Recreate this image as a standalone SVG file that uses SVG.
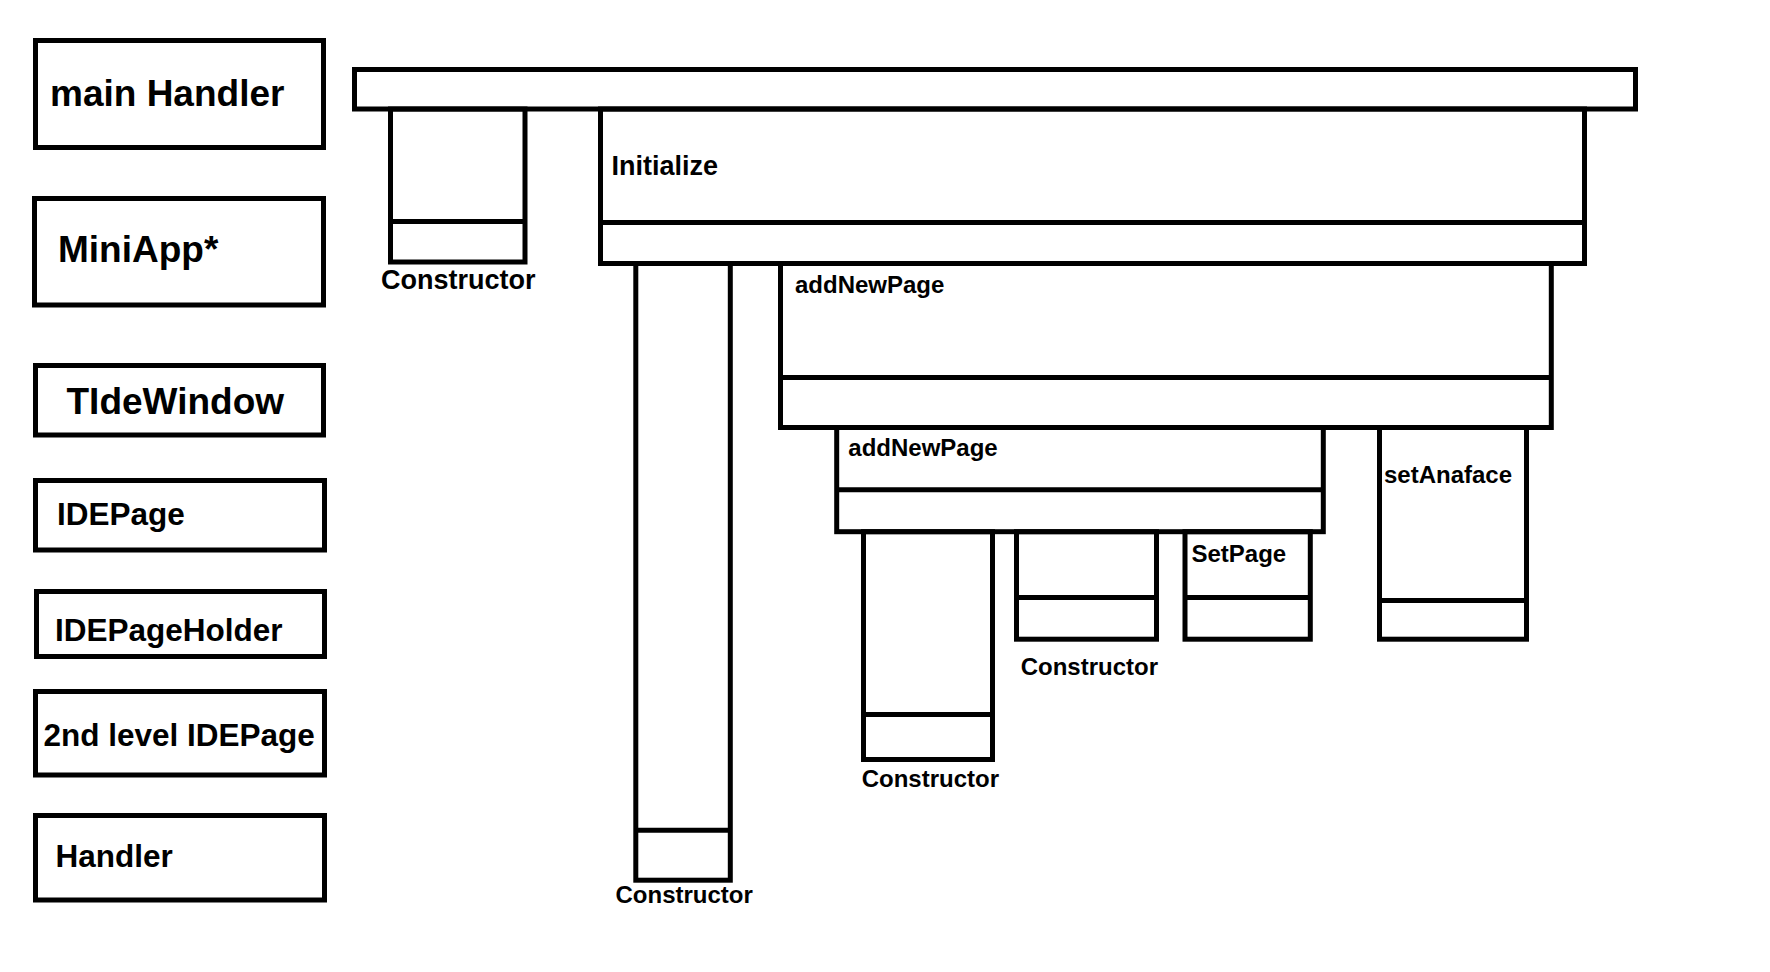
<svg xmlns="http://www.w3.org/2000/svg" width="1770" height="972" viewBox="0 0 1770 972">
<style>
rect.b{fill:none;stroke:#000;stroke-width:5}
line.d{stroke:#000;stroke-width:5}
text{font-family:"Liberation Sans",Arial,sans-serif;font-weight:bold;fill:#000}
.big{font-size:37px}
.mid{font-size:31.5px}
.lbl{font-size:24px}
.lbl27{font-size:27px}
</style>
<rect width="1770" height="972" fill="#fff"/>
<g id="legend">
  <g id="mainHandler"><rect class="b" x="35.5" y="40.5" width="288" height="107"/><text class="big" x="50" y="106">main Handler</text></g>
  <g id="miniApp"><rect class="b" x="34.5" y="198.5" width="289" height="106.5"/><text class="big" x="58" y="261.5">MiniApp*</text></g>
  <g id="tideWindow"><rect class="b" x="35.5" y="365.5" width="288" height="69.5"/><text class="big" x="66.5" y="414">TIdeWindow</text></g>
  <g id="idePage"><rect class="b" x="35.5" y="480.5" width="289" height="69.5"/><text class="mid" x="57" y="524.5">IDEPage</text></g>
  <g id="idePageHolder"><rect class="b" x="36.5" y="591.5" width="288" height="65"/><text class="mid" x="55" y="641">IDEPageHolder</text></g>
  <g id="secondLevel"><rect class="b" x="35.5" y="691.5" width="289" height="83.5"/><text class="mid" x="43.5" y="746">2nd level IDEPage</text></g>
  <g id="handler"><rect class="b" x="35.5" y="815.5" width="289" height="84.5"/><text class="mid" x="55.5" y="866.5">Handler</text></g>
</g>
<g id="connectors"/>
<g id="mainBar"><rect class="b" x="354.5" y="69.5" width="1281" height="39.5"/></g>
<g id="constructor1"><rect class="b" x="390.5" y="109" width="134.5" height="153"/><line class="d" x1="390.5" y1="221.5" x2="525" y2="221.5"/><text class="lbl27" x="381" y="289.3">Constructor</text></g>
<g id="initialize"><rect class="b" x="600.5" y="109" width="984" height="154.5"/><line class="d" x1="600.5" y1="222.5" x2="1584.5" y2="222.5"/><text class="lbl27" x="611.5" y="175">Initialize</text></g>
<g id="constructor2"><rect class="b" x="635.8" y="263.5" width="94.5" height="616.7"/><line class="d" x1="635.8" y1="830.2" x2="730.3" y2="830.2"/><text class="lbl" x="615.5" y="902.7">Constructor</text></g>
<g id="addNewPage1"><rect class="b" x="780.5" y="263.5" width="770.8" height="164"/><line class="d" x1="780.5" y1="377.5" x2="1551.3" y2="377.5"/><text class="lbl" x="795" y="293.3">addNewPage</text></g>
<g id="addNewPage2"><rect class="b" x="836.7" y="427.5" width="486.6" height="104.2"/><line class="d" x1="836.7" y1="489.8" x2="1323.3" y2="489.8"/><text class="lbl" x="848.3" y="456">addNewPage</text></g>
<g id="constructor3"><rect class="b" x="863.5" y="531.7" width="129" height="227.8"/><line class="d" x1="863.5" y1="714.5" x2="992.5" y2="714.5"/><text class="lbl" x="861.7" y="786.7">Constructor</text></g>
<g id="constructor4"><rect class="b" x="1016.5" y="531.7" width="140" height="107.5"/><line class="d" x1="1016.5" y1="597.5" x2="1156.5" y2="597.5"/><text class="lbl" x="1020.7" y="675">Constructor</text></g>
<g id="setPage"><rect class="b" x="1185" y="531.7" width="125.3" height="107.5"/><line class="d" x1="1185" y1="597.5" x2="1310.3" y2="597.5"/><text class="lbl" x="1191.5" y="561.7">SetPage</text></g>
<g id="setAnaface"><rect class="b" x="1379.5" y="427.5" width="147" height="211.7"/><line class="d" x1="1379.5" y1="600.5" x2="1526.5" y2="600.5"/><text class="lbl" x="1384" y="483.3">setAnaface</text></g>
</svg>
